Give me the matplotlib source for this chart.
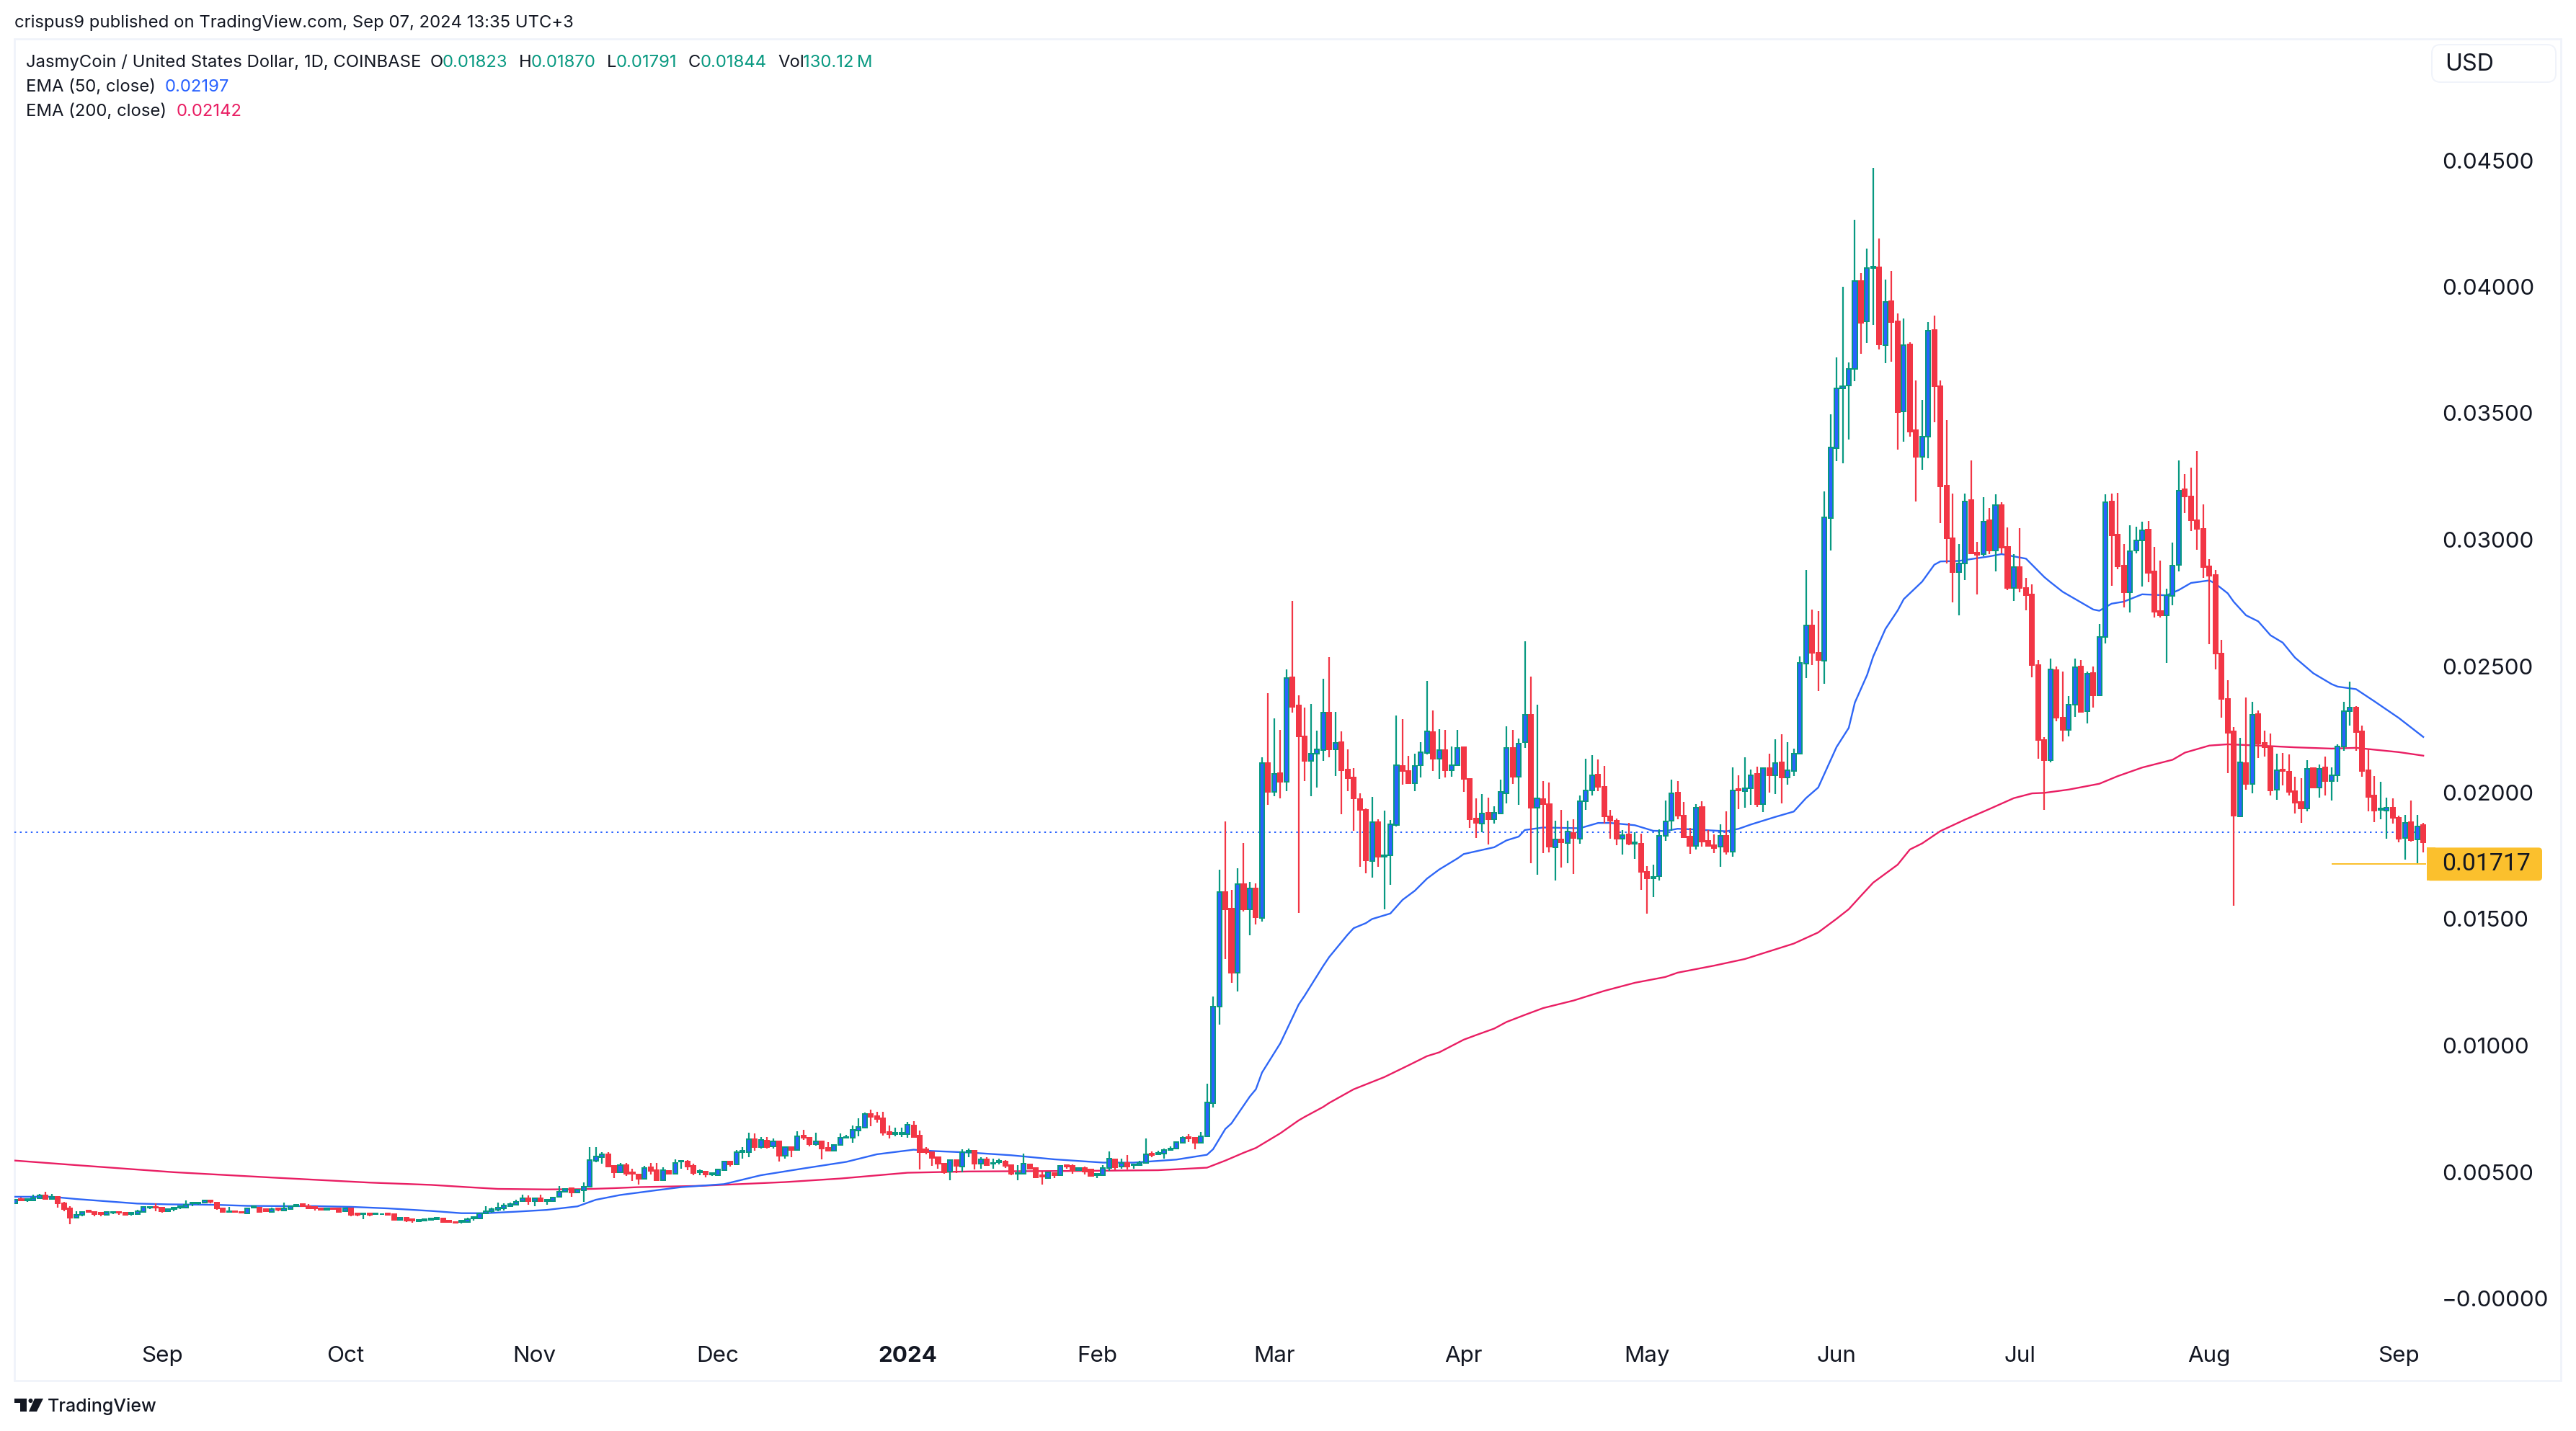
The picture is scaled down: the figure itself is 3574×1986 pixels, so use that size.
import matplotlib
matplotlib.use('Agg')
import matplotlib.pyplot as plt
from matplotlib.patches import FancyBboxPatch, Rectangle, Polygon, Circle

# prices below are in units of 0.00001 USD, one candle per day
opens = [
    375,393,388,388,395,408,394,403,376,356,
    319,330,347,343,338,331,340,343,339,334,
    333,342,359,363,359,345,353,358,358,375,
    375,380,387,378,357,342,346,343,337,360,
    360,353,342,356,347,354,365,372,364,361,
    356,351,357,356,345,356,336,332,335,332,
    332,336,333,311,319,313,305,308,310,314,
    315,307,303,303,303,317,317,335,346,350,
    357,365,370,385,397,385,395,385,385,402,
    421,435,419,428,442,544,559,571,524,498,
    527,498,490,473,518,506,468,504,494,540,
    540,524,499,501,490,488,507,541,531,578,
    578,631,598,624,602,620,564,598,588,644,
    635,609,621,595,584,606,634,634,665,675,
    729,720,711,657,650,650,650,684,644,589,
    578,558,533,502,547,521,578,584,534,550,
    534,539,541,526,494,494,531,515,488,477,
    496,488,528,524,506,515,510,488,488,515,
    549,521,537,526,526,535,572,569,574,588,
    594,615,637,634,616,642,773,1154,1608,1542,
    1288,1637,1539,1622,1503,2117,2002,2076,2044,2457,
    2345,2221,2124,2153,2167,2316,2172,2199,2092,2060,
    1974,1932,1728,1884,1747,1753,1871,2106,2085,2037,
    2108,2157,2239,2133,2167,2087,2109,2179,2053,1897,
    1878,1919,1896,1916,1997,2176,2063,2199,2307,1939,
    1973,1954,1784,1814,1801,1841,1819,1966,2009,2070,
    2024,1907,1890,1818,1834,1798,1799,1688,1662,1670,
    1830,1890,1999,1910,1825,1790,1942,1808,1791,1785,
    1828,1767,2013,2006,2018,2074,1955,2097,2069,2119,
    2060,2086,2155,2511,2662,2554,2522,3085,3363,3599,
    3610,3674,4024,3863,4073,4077,3770,3944,3863,3507,
    3772,3432,3327,3408,3828,3608,3214,3005,2871,2907,
    3156,2949,2943,3076,2958,3136,2972,2809,2891,2809,
    2783,2503,2207,2129,2484,2297,2249,2347,2498,2321,
    2472,2386,2614,3150,3019,2897,2792,2958,2998,3040,
    2874,2718,2701,2779,2901,3199,3171,3077,3042,2895,
    2860,2550,2369,2241,1907,2118,2034,2310,2196,2179,
    2010,2091,2083,2006,1962,1937,2096,2019,2099,2045,
    2069,2181,2323,2336,2242,2088,1988,1932,1930,1939,
    1900,1821,1882,1814,1871,
]
highs = [
    392,399,393,409,412,423,412,403,383,364,
    344,346,349,343,338,341,343,343,340,339,
    350,364,363,375,360,353,358,364,387,381,
    381,388,390,378,357,361,349,346,355,365,
    362,355,360,356,380,365,370,373,372,361,
    356,357,360,358,360,356,337,335,335,338,
    336,336,335,319,320,313,313,314,316,319,
    315,308,304,307,319,321,337,364,358,378,
    376,378,390,409,406,395,409,390,403,444,
    433,435,430,458,597,597,579,577,524,537,
    537,512,490,524,536,536,518,504,549,546,
    547,534,509,503,499,509,544,542,587,599,
    656,651,637,637,632,620,601,598,661,668,
    635,654,625,617,610,651,648,685,712,734,
    746,739,737,684,676,676,699,701,664,598,
    578,558,533,547,547,589,594,584,557,557,
    552,552,547,528,528,572,534,516,501,501,
    499,524,531,531,518,520,512,493,526,581,
    552,552,566,530,545,632,580,585,594,600,
    620,640,650,634,659,849,1193,1696,1885,1615,
    1702,1801,1648,1641,2140,2393,2294,2249,2487,2758,
    2385,2336,2351,2246,2451,2535,2320,2243,2172,2098,
    1997,1938,1983,1894,1929,1893,2306,2291,2146,2153,
    2199,2441,2324,2252,2249,2182,2249,2182,2053,1977,
    1994,1980,1946,2051,2263,2247,2214,2598,2460,2349,
    2047,2040,1889,1931,1889,1894,1990,2134,2147,2131,
    2105,1933,1897,1851,1879,1843,1837,1709,1715,1854,
    1970,2050,2047,1962,1859,1953,1965,1853,1834,1874,
    1925,2099,2067,2139,2090,2102,2099,2154,2211,2231,
    2199,2174,2538,2880,2723,2718,3192,3497,3721,4001,
    3701,4264,4055,4150,4470,4190,4028,4064,3895,3874,
    3781,3630,3554,3861,3886,3630,3472,3183,2983,3183,
    3314,2992,3169,3125,3179,3147,3049,2943,3045,2849,
    2823,2523,2220,2529,2499,2479,2381,2530,2523,2479,
    2500,2666,3180,3182,3185,2982,3056,3051,3070,3074,
    2971,2916,2806,2988,3313,3258,3284,3350,3139,2923,
    2879,2603,2444,2258,2216,2376,2358,2325,2245,2233,
    2153,2156,2152,2062,2057,2128,2097,2111,2142,2099,
    2190,2358,2438,2342,2264,2173,2065,2042,1979,1976,
    1910,1911,1968,1911,1879,
]
lows = [
    373,385,382,388,393,394,394,359,344,293,
    319,326,341,325,324,331,333,330,330,328,
    331,340,354,344,338,343,344,353,357,364,
    371,380,375,350,342,342,341,336,337,360,
    343,342,342,344,347,350,364,364,356,347,
    350,348,351,342,345,324,325,314,325,331,
    331,327,311,311,301,299,303,306,309,313,
    301,300,296,296,303,307,316,335,340,346,
    347,364,368,383,370,364,382,370,382,402,
    420,401,418,382,442,539,532,521,476,498,
    485,464,450,473,490,468,468,494,494,514,
    507,487,487,479,485,488,504,522,531,553,
    558,585,594,594,594,542,552,558,588,628,
    602,604,550,585,582,606,634,616,642,675,
    680,695,644,633,640,638,636,639,509,570,
    524,514,493,467,495,499,558,509,513,528,
    514,530,515,488,467,494,513,480,450,476,
    476,485,513,494,504,490,484,476,488,503,
    506,513,509,514,526,534,558,566,553,586,
    591,615,617,590,616,642,755,1084,1343,1249,
    1215,1529,1435,1478,1489,1951,1986,1976,2005,2317,
    1523,2045,1986,2021,2125,2140,2066,1915,2005,1849,
    1707,1680,1663,1707,1538,1634,1867,2031,2038,2005,
    2061,2151,2085,2053,2061,2063,2109,2002,1861,1820,
    1843,1794,1877,1916,1958,2034,1951,2176,1720,1675,
    1760,1764,1653,1703,1720,1678,1798,1931,1988,2006,
    1878,1818,1793,1756,1793,1739,1616,1522,1587,1653,
    1810,1848,1895,1821,1759,1776,1787,1790,1761,1707,
    1756,1747,1935,1941,1952,1943,1924,2000,1994,1957,
    2031,2066,2155,2453,2505,2402,2429,2956,3310,3301,
    3397,3626,3734,3777,3848,3752,3699,3705,3356,3388,
    3408,3152,3276,3321,3463,3065,2907,2751,2702,2840,
    2943,2783,2934,2943,2874,2947,2800,2758,2792,2722,
    2456,2133,1931,2120,2283,2203,2222,2298,2320,2273,
    2336,2386,2591,2818,2883,2733,2712,2947,2816,2832,
    2692,2692,2512,2741,2874,3105,3033,2960,2849,2587,
    2488,2297,2078,1554,1907,2012,1996,2137,2142,1990,
    1971,2029,1990,1917,1879,1927,2017,1980,1990,1970,
    2044,2164,2266,2166,2064,1927,1884,1896,1819,1877,
    1803,1736,1807,1717,1763,
]
closes = [
    390,388,393,395,408,394,402,376,354,319,
    330,343,342,333,333,341,343,339,331,339,
    344,361,363,359,344,353,358,364,371,380,
    380,387,382,356,342,346,342,339,355,365,
    343,346,353,350,356,365,370,365,357,356,
    351,357,352,342,356,330,330,335,331,336,
    334,331,311,319,307,307,310,313,315,318,
    302,302,300,307,313,321,335,346,354,358,
    367,373,383,397,385,395,385,389,400,422,
    433,419,430,443,546,560,571,521,498,527,
    494,494,473,517,504,468,506,494,535,544,
    521,496,503,490,495,509,540,531,577,584,
    631,598,626,598,620,564,598,588,640,635,
    609,621,593,585,606,634,639,666,677,729,
    719,710,654,650,654,654,686,639,578,578,
    556,533,498,547,524,577,584,533,549,528,
    537,544,523,494,497,533,513,480,482,498,
    488,524,522,505,515,502,484,492,515,552,
    518,537,520,530,537,569,566,575,588,594,
    617,634,632,616,642,774,1154,1608,1539,1288,
    1637,1539,1622,1506,2117,2002,2073,2044,2452,2339,
    2221,2124,2153,2170,2316,2172,2198,2089,2057,1976,
    1932,1731,1883,1747,1753,1874,2109,2085,2038,2106,
    2159,2242,2133,2167,2087,2109,2176,2053,1896,1881,
    1916,1894,1919,2002,2176,2063,2195,2307,1939,1976,
    1954,1786,1814,1803,1845,1821,1967,2009,2069,2023,
    1907,1890,1818,1833,1798,1802,1687,1662,1668,1830,
    1887,1998,1909,1823,1790,1941,1807,1790,1781,1830,
    1767,2009,2009,2018,2069,1955,2096,2068,2118,2060,
    2087,2155,2512,2660,2553,2525,3087,3365,3599,3608,
    3674,4024,3857,4075,4079,3772,3939,3861,3505,3770,
    3427,3327,3408,3826,3606,3212,3007,2871,2907,3152,
    2947,2941,3072,2958,3138,2970,2809,2891,2809,2780,
    2503,2207,2129,2487,2296,2249,2349,2497,2320,2471,
    2386,2614,3149,3018,2895,2792,2953,2998,3036,2868,
    2714,2701,2780,2898,3195,3172,3077,3042,2892,2858,
    2551,2371,2237,1910,2121,2035,2308,2195,2180,2008,
    2088,2085,2003,1961,1937,2095,2021,2095,2045,2069,
    2181,2321,2335,2240,2086,1984,1929,1937,1939,1900,
    1819,1881,1813,1867,1803,
]

ema50_days = [0,6,10,15,20,25,33,38,44,49,55,61,68,73,77,82,87,92,95,99,105,109,116,122,129,136,141,147,150,156,163,170,178,183,190,195,196,198,199,202,203,204,207,210,211,214,215,218,219,221,222,225,227,229,231,233,236,237,242,244,246,247,250,256,259,261,265,268,270,272,275,280,282,284,288,291,293,295,298,300,301,303,304,306,308,309,312,314,315,318,323,325,329,332,333,335,337,340,341,343,345,348,352,354,356,359,360,362,363,365,367,369,371,373,376,379,380,383,386,390,394]
ema50 = [402,402,393,384,375,372,370,366,365,365,362,356,346,337,337,343,350,364,390,409,428,440,452,487,514,540,570,588,583,577,566,550,537,537,549,568,590,670,692,798,827,893,1009,1162,1198,1314,1350,1438,1464,1484,1500,1522,1576,1612,1660,1696,1740,1757,1784,1811,1826,1852,1862,1859,1880,1880,1871,1849,1848,1857,1854,1847,1857,1874,1904,1925,1978,2020,2180,2256,2356,2465,2538,2647,2720,2765,2834,2901,2914,2916,2934,2943,2925,2852,2832,2794,2766,2724,2719,2747,2755,2784,2780,2801,2829,2839,2826,2788,2754,2701,2677,2622,2593,2534,2472,2429,2419,2409,2361,2295,2220]
ema200_days = [0,10,26,42,58,68,74,79,87,93,98,102,112,126,135,146,156,173,187,195,198,201,203,207,210,211,214,215,219,224,228,231,233,237,239,242,244,247,250,255,260,265,270,272,278,283,291,295,298,300,302,304,308,310,312,315,319,323,327,330,332,336,341,344,348,353,355,359,362,367,373,379,383,390,394]
ema200 = [545,527,499,478,458,449,440,433,431,432,436,440,445,460,474,497,502,504,507,517,545,576,595,653,704,718,757,773,827,875,922,958,973,1023,1041,1067,1093,1121,1148,1178,1216,1248,1271,1288,1316,1342,1403,1447,1501,1539,1592,1644,1715,1775,1799,1848,1893,1935,1978,1997,1999,2012,2035,2065,2099,2130,2158,2186,2191,2186,2179,2174,2177,2160,2146]

y_ticks = [0.0, 0.005, 0.01, 0.015, 0.02, 0.025, 0.03, 0.035, 0.04, 0.045]
y_labels = ['\u22120.00000', '0.00500', '0.01000', '0.01500', '0.02000', '0.02500', '0.03000', '0.03500', '0.04000', '0.04500']
month_days = [24, 54, 85, 115, 146, 177, 206, 237, 267, 298, 328, 359, 390]
month_labels = ['Sep', 'Oct', 'Nov', 'Dec', '2024', 'Feb', 'Mar', 'Apr', 'May', 'Jun', 'Jul', 'Aug', 'Sep']
last_close = 0.01844
marked_low = 0.01717
marked_low_day = 379

UNIT = 0.00001
W, H = 3574, 1986
DARK = '#131722'
GREEN = '#089981'
RED = '#F23645'
BLUE = '#2962FF'
PINK = '#E91E63'
FRAME = '#F0F3FA'
YELLOW = '#FBC02D'
FONT = 'Inter'

# pixel layout of the plot area
PLOT_L, PLOT_R, PLOT_T, PLOT_B = 20, 3366, 55, 1840
DAY0_X, DAY_W = 21, 8.48
ZERO_Y, PX_PER_USD = 1802, 35100

plt.rcParams['font.family'] = [FONT, 'DejaVu Sans']

fig = plt.figure(figsize=(W / 200, H / 200), dpi=200, facecolor='white')

# page layer in pixel coordinates, for the frame and the texts around the chart
page = fig.add_axes([0, 0, 1, 1], zorder=0)
page.set_xlim(0, W)
page.set_ylim(H, 0)
page.axis('off')

page.add_patch(Rectangle((20, 54), 3533, 1862, fill=False, edgecolor=FRAME, linewidth=1.0))


def label(x, y, s, color=DARK, size=8.6, **kw):
    page.text(x, y, s, color=color, fontsize=size, va='center', ha=kw.pop('ha', 'left'), **kw)


label(20, 32, 'crispus9 published on TradingView.com, Sep 07, 2024 13:35 UTC+3')
label(36, 87, 'JasmyCoin / United States Dollar, 1D, COINBASE')
label(597, 87, 'O')
label(614, 87, '0.01823', GREEN)
label(720, 87, 'H')
label(737, 87, '0.01870', GREEN)
label(842, 87, 'L')
label(855, 87, '0.01791', GREEN)
label(955, 87, 'C')
label(972, 87, '0.01844', GREEN)
label(1079, 87, 'Vol')
label(1114, 87, '130.12\u2009M', GREEN)
label(36, 121, 'EMA (50, close)')
label(229, 121, '0.02197', BLUE)
label(36, 155, 'EMA (200, close)')
label(245, 155, '0.02142', PINK)

# currency button
page.add_patch(FancyBboxPatch((3380, 68), 160, 40, boxstyle='round,pad=6,rounding_size=12',
                              facecolor='white', edgecolor=FRAME, linewidth=0.7))
label(3392, 89, 'USD', size=11.6)

# TradingView logo and name
page.add_patch(Polygon([(20, 1941), (37, 1941), (37, 1959), (28, 1959), (28, 1947), (20, 1947)], color=DARK, lw=0))
page.add_patch(Circle((42.5, 1944), 3, color=DARK, lw=0))
page.add_patch(Polygon([(48, 1941), (60, 1941), (51, 1959), (40, 1959)], color=DARK, lw=0))
label(66, 1952, 'TradingView', size=9.0, fontweight='medium')

# badge for the marked low on the price scale
low_y = ZERO_Y - marked_low * PX_PER_USD
page.add_patch(FancyBboxPatch((3367, low_y - 23), 160, 46, boxstyle='round,pad=0,rounding_size=5',
                              facecolor=YELLOW, edgecolor='none'))
page.add_patch(Rectangle((3367, low_y - 23), 12, 46, facecolor=YELLOW, edgecolor='none'))
# Inter has a narrow 1, Roboto keeps the digits as wide as the reference
label(3388, low_y, '0.01717', size=12.2, family='Roboto')

# chart
ax = fig.add_axes([PLOT_L / W, 1 - PLOT_B / H, (PLOT_R - PLOT_L) / W, (PLOT_B - PLOT_T) / H], zorder=1)
ax.patch.set_alpha(0)
for side in ax.spines.values():
    side.set_visible(False)
ax.set_xlim((PLOT_L - DAY0_X) / DAY_W, (PLOT_R - DAY0_X) / DAY_W)
ax.set_ylim((ZERO_Y - PLOT_B) / PX_PER_USD, (ZERO_Y - PLOT_T) / PX_PER_USD)

ax.axhline(last_close, color=BLUE, lw=0.72, ls=(0, (1.2, 2.6)), zorder=1)
ax.plot(ema200_days, [v * UNIT for v in ema200], color=PINK, lw=0.85, zorder=2)
ax.plot(ema50_days, [v * UNIT for v in ema50], color='#2E66F6', lw=0.85, zorder=2)

for i in range(len(opens)):
    o, h, l, c = opens[i] * UNIT, highs[i] * UNIT, lows[i] * UNIT, closes[i] * UNIT
    up = c >= o
    edge = GREEN if up else RED
    ax.vlines(i, l, h, color=edge, lw=0.8, zorder=3)
    ax.bar(i, abs(c - o), bottom=min(o, c), width=0.72, facecolor=BLUE if up else RED,
           edgecolor=edge, linewidth=0.72, zorder=4)

ax.hlines(marked_low, marked_low_day, (PLOT_R - DAY0_X) / DAY_W, color=YELLOW, lw=0.72, zorder=5)

ax.yaxis.tick_right()
ax.set_yticks(y_ticks)
ax.set_yticklabels(y_labels)
ax.tick_params(axis='y', length=0, pad=8, labelsize=11.3, labelcolor=DARK)
ax.set_xticks(month_days)
ax.set_xticklabels(month_labels)
ax.tick_params(axis='x', length=0, pad=10, labelsize=11.3, labelcolor=DARK)
for t in ax.get_xticklabels():
    if t.get_text() == '2024':
        t.set_fontweight('bold')

fig.savefig('out.png', dpi=200, facecolor='white')
